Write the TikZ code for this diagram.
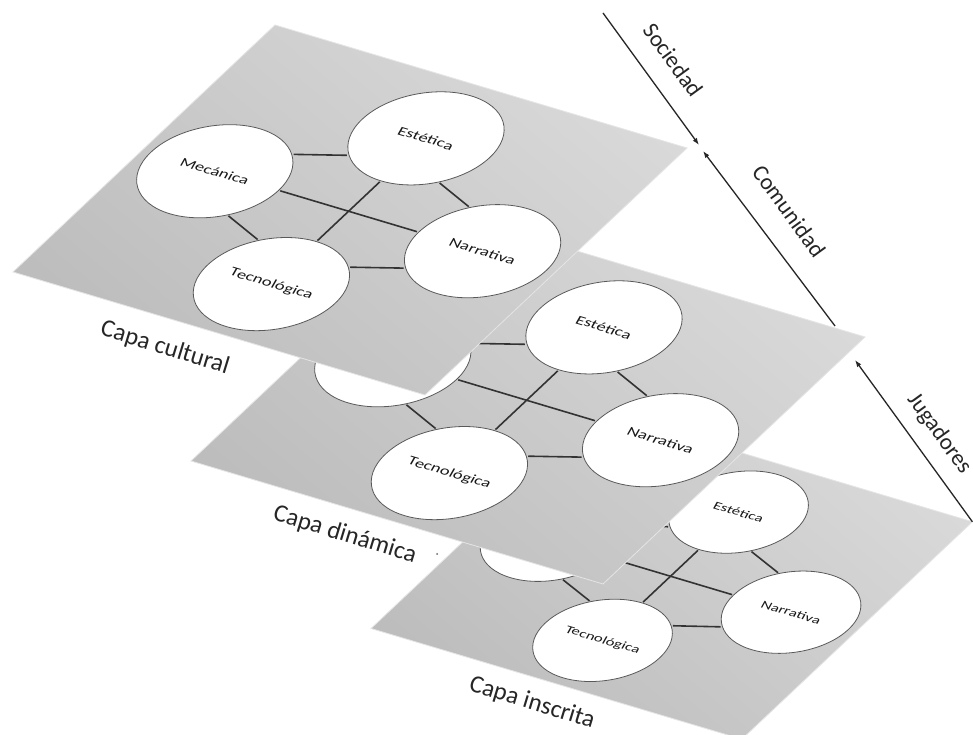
\documentclass[tikz,border=0pt]{standalone}
\usepackage{fontspec}
\setmainfont{Carlito}
\usetikzlibrary{shapes.geometric,arrows.meta}
\tikzset{
  plane/.style={draw=white!80!gray, line width=0.8pt, top color=gray!30, bottom color=gray!52, shading angle=-40},
  bub/.style={ellipse, draw=black!65, line width=0.8pt, fill=white, minimum width=31pt, minimum height=34.4pt, inner sep=0pt, transform shape},
  bubtext/.style={inner sep=0pt, font=\fontsize{4.2}{5}\selectfont, text=black!90, transform shape, xslant=-0.25},
  link/.style={draw=black!80, line width=1.6pt},
  layerlabel/.style={font=\fontsize{25}{28}\selectfont, rotate=-17, text=black!85},
  axislabel/.style={font=\fontsize{23}{26}\selectfont, rotate=-54, text=black!85},
  axisline/.style={draw=black!85, line width=1.3pt, -{Latex[length=7pt,width=5pt]}},
}
\newcommand\drawlayer[1]{%
  \path[plane] (0,0) -- (100,0) -- (100,100) -- (0,100) -- cycle;
  \coordinate (#1rc) at (100,100);
  \node[bub] (#1mec) at (17.5,49.5) {};
  \node[bub] (#1est) at (50,79) {};
  \node[bub] (#1nar) at (82.5,49.5) {};
  \node[bub] (#1tec) at (50,20) {};
  \node[bubtext] (#1mect) at (#1mec) {Mecánica};
  \node[bubtext] (#1estt) at (#1est) {Estética};
  \node[bubtext] (#1nart) at (#1nar) {Narrativa};
  \node[bubtext] (#1tect) at (#1tec) {Tecnológica};
  \draw[link] (#1mec.east) -- (#1nar.west);
  \draw[link] (#1est.south) -- (#1tec.north);
  \draw[link] (#1mec.north east) -- (#1est.south west);
  \draw[link] (#1est.south east) -- (#1nar.north west);
  \draw[link] (#1mec.south east) -- (#1tec.north west);
  \draw[link] (#1tec.north east) -- (#1nar.south west);
}
\begin{document}
\begin{tikzpicture}[x=1pt,y=1pt]
\path[use as bounding box, clip] (0,0) rectangle (973,735);
\fill[white] (0,0) rectangle (973,735);
% bottom layer
\begin{scope}[cm={3.708,-1.107,2.306,2.174,(371,106.5)}]
  \drawlayer{c}
\end{scope}
% middle layer
\begin{scope}[cm={4.12,-1.23,2.62,2.47,(191,274)}]
  \drawlayer{b}
\end{scope}
% top layer
\begin{scope}[cm={4.12,-1.23,2.62,2.47,(13,463)}]
  \drawlayer{a}
\end{scope}
% layer labels
\node[layerlabel] (lc) at (165,387) {Capa cultural};
\node[layerlabel] (ld) at (345,200) {Capa dinámica};
\node[layerlabel] (li) at (532,32) {Capa inscrita};
\fill[black!60] (437,181) circle (1pt);
% axis
\coordinate (socA) at (603,722);
\coordinate (socB) at (699,590);
\coordinate (comA) at (835,409);
\coordinate (comB) at (703,584);
\coordinate (jugB) at (855,375);
\draw[axisline] (socA) -- (socB);
\draw[axisline] (comA) -- (comB);
\draw[axisline] (crc) -- (jugB);
\node[axislabel] (tsoc) at (673,675) {Sociedad};
\node[axislabel] (tcom) at (789,524) {Comunidad};
\node[axislabel] (tjug) at (939,301) {Jugadores};
\end{tikzpicture}
\end{document}
